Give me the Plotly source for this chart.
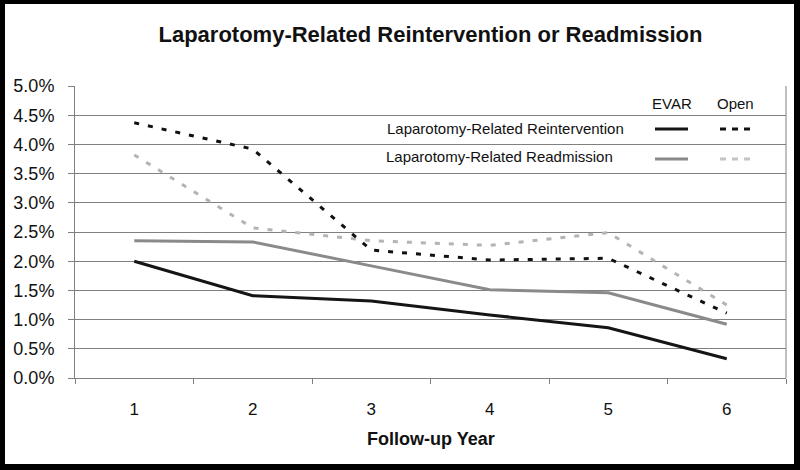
import plotly.graph_objects as go

years = ["1", "2", "3", "4", "5", "6"]
evar_reintervention = [0.0200, 0.0141, 0.0132, 0.0108, 0.0086, 0.0033]
evar_readmission = [0.0235, 0.0233, 0.0192, 0.0151, 0.0146, 0.0092]
open_reintervention = [0.0437, 0.0392, 0.0219, 0.0202, 0.0205, 0.0111]
open_readmission = [0.0382, 0.0257, 0.0235, 0.0227, 0.0249, 0.0125]
y_ticks = [0.0, 0.005, 0.01, 0.015, 0.02, 0.025, 0.03, 0.035, 0.04, 0.045, 0.05]

FONT = "Liberation Sans, Arial, sans-serif"
W, H = 800, 470
L, R, T, B = 75, 14, 86, 92
PW, PH = W - L - R, H - T - B


def px(x):
    return (x - L) / PW


def py(y):
    return (H - B - y) / PH


fig = go.Figure()
fig.add_trace(go.Scatter(x=years, y=open_readmission, mode="lines",
                         line=dict(color="#b4b4b4", width=3, dash="5px,9px"), showlegend=False))
fig.add_trace(go.Scatter(x=years, y=open_reintervention, mode="lines",
                         line=dict(color="#111111", width=3, dash="5px,9px"), showlegend=False))
fig.add_trace(go.Scatter(x=years, y=evar_readmission, mode="lines",
                         line=dict(color="#8a8a8a", width=3), showlegend=False))
fig.add_trace(go.Scatter(x=years, y=evar_reintervention, mode="lines",
                         line=dict(color="#151515", width=3), showlegend=False))

shapes = [
    # white card on black frame
    dict(type="rect", xref="paper", yref="paper", layer="below",
         x0=px(5), x1=px(794), y0=py(464), y1=py(4),
         fillcolor="white", line=dict(width=0)),
    # right border of plot area
    dict(type="line", xref="paper", yref="paper", x0=1, x1=1, y0=0, y1=1,
         line=dict(color="#808080", width=1)),
    # legend samples
    dict(type="line", xref="paper", yref="paper", x0=px(655), x1=px(688), y0=py(129), y1=py(129),
         line=dict(color="#151515", width=3)),
    dict(type="line", xref="paper", yref="paper", x0=px(720), x1=px(750), y0=py(129), y1=py(129),
         line=dict(color="#111111", width=3, dash="6px,6px")),
    dict(type="line", xref="paper", yref="paper", x0=px(655), x1=px(688), y0=py(159), y1=py(159),
         line=dict(color="#8a8a8a", width=3)),
    dict(type="line", xref="paper", yref="paper", x0=px(720), x1=px(750), y0=py(159), y1=py(159),
         line=dict(color="#c4c4c4", width=3, dash="6px,6px")),
]

lf = dict(family=FONT, size=15, color="#111111")
annotations = [
    dict(text="EVAR", x=px(672), y=py(103), xref="paper", yref="paper", showarrow=False,
         xanchor="center", yanchor="middle", font=lf),
    dict(text="Open", x=px(735), y=py(103), xref="paper", yref="paper", showarrow=False,
         xanchor="center", yanchor="middle", font=lf),
    dict(text="Laparotomy-Related Reintervention", x=px(505), y=py(128), xref="paper", yref="paper",
         showarrow=False, xanchor="center", yanchor="middle", font=lf),
    dict(text="Laparotomy-Related Readmission", x=px(500), y=py(156), xref="paper", yref="paper",
         showarrow=False, xanchor="center", yanchor="middle", font=lf),
    dict(text="<b>Follow-up Year</b>", x=0.5, y=py(439), xref="paper", yref="paper",
         showarrow=False, xanchor="center", yanchor="middle",
         font=dict(family=FONT, size=18, color="#111111")),
]

fig.update_layout(
    width=W, height=H,
    margin=dict(l=L, r=R, t=T, b=B, autoexpand=False),
    paper_bgcolor="black",
    plot_bgcolor="white",
    title=dict(text="<b>Laparotomy-Related Reintervention or Readmission</b>",
               x=0.5, xanchor="center", xref="paper", y=1 - 34 / H, yanchor="middle", yref="container",
               font=dict(family=FONT, size=22, color="#111111")),
    shapes=shapes,
    annotations=annotations,
    showlegend=False,
)

fig.update_xaxes(type="category", categoryorder="array", categoryarray=years,
                 range=[-0.5, 5.5], tickson="boundaries", ticks="outside", ticklen=5,
                 tickcolor="#808080", showline=True, linecolor="#808080", linewidth=1,
                 showgrid=False, zeroline=False, ticklabelstandoff=16,
                 tickfont=dict(family=FONT, size=17, color="#111111"))
fig.update_yaxes(range=[0, 0.05], tickvals=y_ticks, tickformat=".1%", ticks="outside", ticklen=6,
                 tickcolor="#808080", showline=True, linecolor="#808080", linewidth=1,
                 showgrid=True, gridcolor="#808080", gridwidth=1, zeroline=False,
                 ticklabelstandoff=10,
                 tickfont=dict(family=FONT, size=18, color="#111111"))

fig.write_html("out.html", config={"displayModeBar": False},
               post_script="document.body.style.margin='0';document.body.style.overflow='hidden';")
